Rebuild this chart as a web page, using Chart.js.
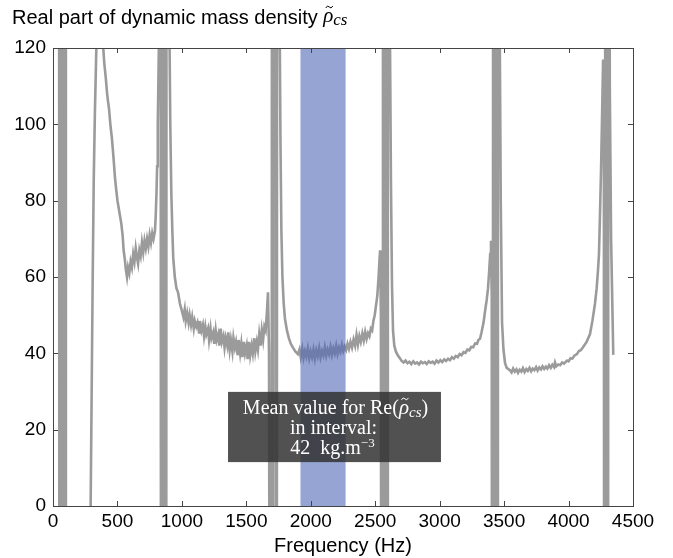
<!DOCTYPE html>
<html>
<head>
<meta charset="utf-8">
<script src="https://cdn.jsdelivr.net/npm/chart.js@4.4.1/dist/chart.umd.min.js"></script>
<style>
  html, body { margin: 0; padding: 0; background: #fff; }
  #wrap { position: relative; width: 673px; height: 558px; }
</style>
</head>
<body>
<div id="wrap"><canvas id="chart" width="673" height="558"></canvas></div>
<script>
// frequency (Hz) and Re(rho_cs); +-300 marks the branches
// that run off the plot at each resonance
const freqHz = [
  46, 52, 58, 64, 70, 76, 82, 88, 94, 100,
  200, 260, 284, 292, 300, 308, 316, 325, 335, 350,
  365, 378, 388, 398, 410, 420, 427, 435, 445, 458,
  470, 481, 490, 500, 510, 520, 530, 540, 548, 556,
  565, 574, 582, 592, 602, 612, 622, 632, 642, 652,
  660, 670, 680, 690, 700, 710, 720, 730, 740, 750,
  760, 770, 780, 791, 797, 803, 808, 813, 818, 823, 828,
  834, 840, 846, 852, 858, 864, 870, 876, 882,
  902, 910, 918, 926, 933, 945, 958, 970, 985, 1001,
  1012, 1022, 1030, 1041, 1052, 1060, 1071, 1080, 1092, 1100,
  1112, 1121, 1133, 1140, 1152, 1163, 1172, 1182, 1190, 1203,
  1211, 1222, 1230, 1243, 1251, 1262, 1270, 1282, 1290, 1301,
  1310, 1322, 1331, 1340, 1352, 1360, 1371, 1380, 1392, 1400,
  1411, 1420, 1433, 1440, 1452, 1461, 1470, 1481, 1490, 1502,
  1510, 1521, 1530, 1541, 1550, 1561, 1570, 1581, 1590, 1600,
  1611, 1620, 1630, 1640, 1650, 1660, 1668, 1676,
  1694, 1700, 1706, 1712, 1728, 1734, 1740,
  1758, 1765, 1772, 1780, 1790, 1800, 1815, 1830, 1845, 1862, 1880,
  1900, 1912, 1922, 1934, 1944, 1955, 1966, 1977, 1988, 1999,
  2010, 2021, 2032, 2043, 2054, 2065, 2076, 2087, 2098, 2109,
  2120, 2131, 2142, 2153, 2164, 2175, 2186, 2197, 2208, 2219,
  2230, 2241, 2252, 2263, 2274, 2285, 2296, 2308, 2320, 2332,
  2344, 2355, 2366, 2377, 2388, 2400, 2411, 2422, 2433, 2444,
  2455, 2466, 2476, 2486, 2496, 2506, 2516, 2526, 2534, 2538, 2544,
  2554, 2560, 2566, 2572, 2586, 2592, 2598,
  2614, 2622, 2630, 2638, 2648, 2660, 2675, 2690,
  2705, 2720, 2735, 2750, 2765, 2780, 2795, 2810, 2825, 2840,
  2855, 2870, 2885, 2900, 2915, 2930, 2945, 2960, 2975, 2990,
  3005, 3020, 3035, 3050, 3065, 3080, 3095, 3110, 3125, 3140,
  3155, 3170, 3185, 3200, 3215, 3230, 3245, 3260, 3275, 3290,
  3300, 3313, 3325, 3340, 3352, 3365, 3375, 3385, 3392, 3398, 3404,
  3410, 3416, 3422, 3428, 3440, 3446, 3452,
  3466, 3474, 3484, 3495, 3507, 3520, 3545,
  3558, 3570, 3583, 3596, 3608, 3621, 3634, 3646, 3659, 3672,
  3684, 3697, 3710, 3722, 3735, 3748, 3760, 3773, 3786, 3798,
  3811, 3824, 3836, 3849, 3862, 3874, 3887, 3895, 3905, 3920,
  3935, 3950, 3965, 3988, 4000, 4015, 4030, 4045, 4065, 4080,
  4095, 4112, 4140, 4166, 4185, 4205, 4218, 4228, 4236, 4243,
  4252, 4260, 4268, 4274,
  4280, 4286, 4292, 4298, 4304, 4310,
  4320, 4330, 4347
];
const rhoRe = [
  300, -300, 300, -300, 300, -300, 300, -300, 300, -300,
  -150, -60, -12, 0, 30, 60, 85, 103, 118, 135,
  140, 132, 121, 116, 112, 108, 106, 104, 100, 96,
  91, 86, 83, 80, 78, 76, 74, 71, 67, 65,
  62, 60, 62.5, 61, 64, 62.5, 66, 64, 67.5, 65,
  63.5, 67, 65.5, 69, 66.5, 69.5, 67.5, 70, 68, 71,
  69, 71.5, 70, 72, 76, 82, 89, 100, 112, 125, 160,
  300, -300, 300, -300, 300, -300, 300, -300, 300,
  130, 100, 82, 72, 65, 60, 57, 56, 53, 51,
  49.5, 51.5, 48.5, 50.5, 48, 50, 47.5, 49.5, 46.5, 48.5,
  47, 48, 45.5, 48.5, 46, 47.5, 44.5, 47, 45, 46.5,
  43.5, 46.5, 44, 45.5, 42.5, 46, 43.5, 45, 42, 46.5,
  43, 44.5, 41.5, 44, 42, 45.5, 41, 43.5, 40.5, 44,
  41.5, 43, 39.5, 43.5, 40, 42.5, 39, 43, 40, 42,
  38.5, 43, 39.5, 42, 40, 44, 40.5, 43, 41, 45,
  42, 46, 43.5, 47, 46, 51, 56, 40,
  -300, 300, -300, 300, 300, -300, 300,
  130, 95, 72, 60, 53, 49, 46, 44, 42.5, 41.5, 40.5,
  39.8, 41, 39, 41.2, 38.8, 40.6, 39.2, 41.3, 38.7, 40.5,
  39, 41, 38.6, 40.8, 39.3, 41.4, 39, 40.6, 39.5, 41.6,
  39.4, 41, 39.8, 41.7, 39.6, 41.3, 40, 42, 39.9, 41.5,
  40.4, 42.2, 40.6, 41.8, 40.9, 42.5, 41.2, 43, 41.5, 43.6,
  42, 44.8, 42.3, 44.5, 43, 45.2, 43.4, 45.6, 43.8, 45.3,
  44.5, 46.5, 46, 48.5, 50, 52.5, 55, 60, 65, 67, 50,
  -300, 300, -300, 300, 300, -300, 300,
  125, 85, 58, 46, 42, 40.5, 39.5, 38.8,
  38, 37.6, 38.1, 37.4, 37.8, 37.2, 37.9, 37.3, 37.6, 37.1,
  37.8, 37.4, 37.7, 37.2, 37.9, 37.5, 37.8, 37.3, 38.1, 37.6,
  38.2, 37.7, 38.4, 38, 38.6, 38.2, 39, 38.6, 39.3, 39,
  39.8, 39.5, 40.3, 40.1, 41, 40.8, 41.7, 41.6, 42.6, 42.5,
  43.5, 43.8, 45.5, 48, 51, 54, 57, 62, 66, 69.5, 55,
  -300, 300, -300, 300, 300, -300, 300,
  125, 80, 48, 41, 37.5, 36.2, 35.6,
  35, 36, 35.2, 35.8, 34.9, 35.7, 35.2, 36.1, 35.1, 35.9,
  35.4, 36.2, 35.3, 36, 35.6, 36.4, 35.5, 36.3, 35.8, 36.6,
  35.9, 36.5, 36, 36.9, 36.2, 37, 36.4, 37.6, 36.6, 37.1,
  36.9, 37.6, 37.3, 38.1, 37.9, 38.7, 38.6, 39.4, 39.8, 40.6,
  40.8, 41.6, 43, 45, 48.5, 53, 57, 61.6, 66, 75,
  88, 102, 117, 90,
  -300, 300, -300, 300, -300, 300,
  110, 70, 39.6
];
const xTicks = [0, 500, 1000, 1500, 2000, 2500, 3000, 3500, 4000, 4500];
const yTicks = [0, 20, 40, 60, 80, 100, 120];
const meanInterval = [1920, 2270];   // Hz, shaded band
const meanValue = 42;                // kg.m^-3

const SANS = '"Liberation Sans", Arial, Helvetica, sans-serif';
const SERIF = '"Liberation Serif", "Times New Roman", serif';

// draw a run of text pieces centred (or left-aligned) on x, with optional tilde accent
function drawRuns(ctx, runs, x, y, align) {
  let total = 0;
  runs.forEach((r) => { ctx.font = r.font; r.w = ctx.measureText(r.t).width; total += r.w; });
  let cx = align === 'center' ? x - total / 2 : x;
  runs.forEach((r) => {
    ctx.font = r.font;
    ctx.fillText(r.t, cx, y + (r.dy || 0));
    if (r.tilde) {
      const tx = cx + r.w * 0.25, ty = y - r.tilde, tw = r.w * 0.7;
      ctx.beginPath();
      ctx.moveTo(tx, ty + 1);
      ctx.quadraticCurveTo(tx + tw * 0.25, ty - 2.4, tx + tw * 0.5, ty);
      ctx.quadraticCurveTo(tx + tw * 0.75, ty + 2.4, tx + tw, ty - 1);
      ctx.lineWidth = 1;
      ctx.strokeStyle = ctx.fillStyle;
      ctx.stroke();
    }
    cx += r.w;
  });
}

const decorPlugin = {
  id: 'decor',
  afterDatasetsDraw(chart) {
    const { ctx, chartArea: a, scales: { x, y } } = chart;
    ctx.save();
    // shaded interval
    const bx0 = x.getPixelForValue(meanInterval[0]);
    const bx1 = x.getPixelForValue(meanInterval[1]);
    ctx.fillStyle = 'rgba(80,104,184,0.6)';
    ctx.fillRect(bx0, a.top, bx1 - bx0, a.bottom - a.top);

    // annotation box
    const l = x.getPixelForValue(1358), r = x.getPixelForValue(3010);
    const t = y.getPixelForValue(29.9), b = y.getPixelForValue(11.5);
    ctx.fillStyle = 'rgba(50,50,50,0.85)';
    ctx.fillRect(l, t, r - l, b - t);
    ctx.fillStyle = '#fff';
    ctx.textBaseline = 'alphabetic';
    const cx = (l + r) / 2 + 1;
    drawRuns(ctx, [
      { t: 'Mean value for Re(', font: `20px ${SERIF}` },
      { t: 'ρ', font: `italic 21px ${SERIF}`, tilde: 15 },
      { t: 'cs', font: `italic 15px ${SERIF}`, dy: 3 },
      { t: ')', font: `20px ${SERIF}` },
    ], cx, t + 22, 'center');
    drawRuns(ctx, [{ t: 'in interval:', font: `20px ${SERIF}` }], cx - 2, t + 42, 'center');
    drawRuns(ctx, [
      { t: `${meanValue}  kg.m`, font: `20px ${SERIF}` },
      { t: '−3', font: `13px ${SERIF}`, dy: -7 },
    ], cx - 3, t + 62, 'center');

    // axes box with inward ticks
    ctx.strokeStyle = '#444';
    ctx.lineWidth = 1;
    ctx.strokeRect(Math.round(a.left) + 0.5, Math.round(a.top) + 0.5,
      Math.round(a.right - a.left), Math.round(a.bottom - a.top));
    ctx.beginPath();
    xTicks.forEach((v) => {
      const px = Math.round(x.getPixelForValue(v)) + 0.5;
      ctx.moveTo(px, a.bottom); ctx.lineTo(px, a.bottom - 5);
      ctx.moveTo(px, a.top); ctx.lineTo(px, a.top + 5);
    });
    yTicks.forEach((v) => {
      const py = Math.round(y.getPixelForValue(v)) + 0.5;
      ctx.moveTo(a.left, py); ctx.lineTo(a.left + 5, py);
      ctx.moveTo(a.right, py); ctx.lineTo(a.right - 5, py);
    });
    ctx.stroke();

    // title
    ctx.fillStyle = '#000';
    drawRuns(ctx, [
      { t: 'Real part of dynamic mass density ', font: `20px ${SANS}` },
      { t: 'ρ', font: `italic 21px ${SERIF}`, dy: -2, tilde: 17 },
      { t: 'cs', font: `italic 17px ${SERIF}`, dy: 1 },
    ], 12, 24, 'left');
    ctx.restore();
  },
};

new Chart(document.getElementById('chart'), {
  type: 'line',
  data: {
    datasets: [{
      data: freqHz.map((f, i) => ({ x: f, y: rhoRe[i] })),
      borderColor: '#9b9b9b',
      borderWidth: 2.6,
      pointRadius: 0,
      tension: 0,
      fill: false,
      clip: 0,
    }],
  },
  plugins: [decorPlugin],
  options: {
    responsive: false,
    animation: false,
    layout: { padding: { left: 0, top: 48, right: 40, bottom: 0 } },
    plugins: { legend: { display: false }, tooltip: { enabled: false } },
    scales: {
      x: {
        type: 'linear', min: 0, max: 4500,
        afterBuildTicks: (s) => { s.ticks = xTicks.map((v) => ({ value: v })); },
        afterFit: (s) => { s.height = 52; },
        grid: { display: false, drawTicks: false },
        border: { display: false },
        ticks: { color: '#000', font: { family: SANS, size: 19 }, padding: 4, maxRotation: 0, autoSkip: false, callback: (v) => String(v) },
        title: { display: true, text: 'Frequency (Hz)', color: '#000', font: { family: SANS, size: 20 }, padding: { top: 0, bottom: 0 } },
      },
      y: {
        type: 'linear', min: 0, max: 120,
        afterBuildTicks: (s) => { s.ticks = yTicks.map((v) => ({ value: v })); },
        afterFit: (s) => { s.width = 53; },
        grid: { display: false, drawTicks: false },
        border: { display: false },
        ticks: { color: '#000', font: { family: SANS, size: 19 }, padding: 7, callback: (v) => String(v) },
      },
    },
  },
});
</script>
</body>
</html>
